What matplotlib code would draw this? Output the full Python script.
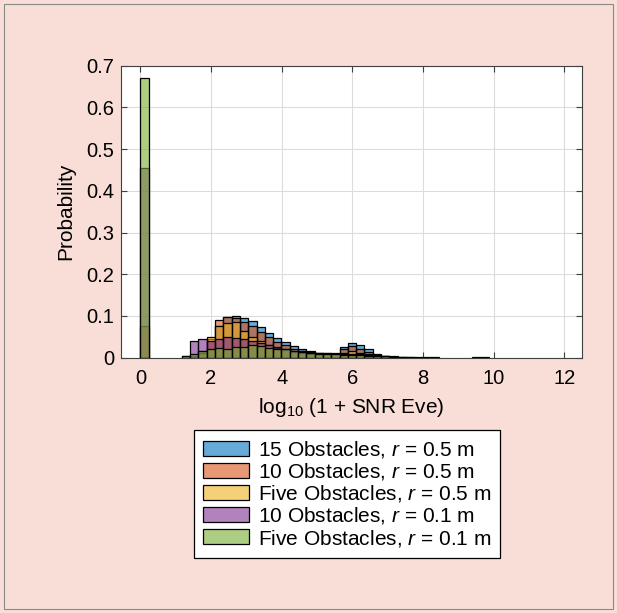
import numpy as np
import matplotlib.pyplot as plt
from matplotlib.colors import to_rgba
from matplotlib.patches import Rectangle

plt.rcParams['font.family'] = ['Liberation Sans', 'DejaVu Sans']
plt.rcParams['mathtext.fontset'] = 'custom'
plt.rcParams['mathtext.rm'] = 'Liberation Sans'
plt.rcParams['mathtext.it'] = 'Liberation Sans:italic'

# Histogram bins (log10(1 + SNR Eve)), common width, starting at 0
bin_width = 0.235
n_bins = 43

labels = ['15 Obstacles, $r$ = 0.5 m',
          '10 Obstacles, $r$ = 0.5 m',
          'Five Obstacles, $r$ = 0.5 m',
          '10 Obstacles, $r$ = 0.1 m',
          'Five Obstacles, $r$ = 0.1 m']

# probability per bin, k = 0 .. 42
p_15_05 = [0, 0, 0, 0, 0, 0, 0.005, 0.015, 0.04, 0.075, 0.097, 0.1, 0.095, 0.087,
           0.074, 0.06, 0.047, 0.038, 0.029, 0.021, 0.015, 0.012, 0.011, 0.012, 0.025,
           0.036, 0.03, 0.02, 0.01, 0.005, 0.003, 0.002, 0.001, 0, 0, 0, 0, 0, 0, 0,
           0, 0, 0]
p_10_05 = [0.075, 0, 0, 0, 0, 0, 0, 0.01, 0.045, 0.09, 0.097, 0.095, 0.085, 0.077,
           0.062, 0.05, 0.038, 0.03, 0.022, 0.017, 0.013, 0.011, 0.01, 0.01, 0.02,
           0.028, 0.022, 0.013, 0.006, 0.003, 0.001, 0, 0, 0, 0, 0, 0, 0, 0, 0,
           0, 0, 0]
p_5_05 = [0, 0, 0, 0, 0, 0, 0, 0.012, 0.05, 0.075, 0.082, 0.085, 0.065, 0.05,
          0.04, 0.03, 0.024, 0.018, 0.014, 0.011, 0.009, 0.008, 0.008, 0.008, 0.012,
          0.015, 0.012, 0.008, 0.004, 0.002, 0, 0, 0, 0, 0, 0, 0, 0, 0, 0,
          0, 0, 0]
p_10_01 = [0.455, 0, 0, 0, 0, 0.005, 0.04, 0.044, 0.04, 0.045, 0.05, 0.048, 0.045, 0.04,
           0.035, 0.03, 0.025, 0.02, 0.017, 0.015, 0.013, 0.012, 0.011, 0.01, 0.01,
           0.01, 0.009, 0.007, 0.005, 0.003, 0.002, 0.001, 0.001, 0.001, 0.001, 0.001, 0, 0, 0, 0,
           0.002, 0.001, 0]
p_5_01 = [0.67, 0, 0, 0, 0, 0.003, 0.008, 0.015, 0.02, 0.024, 0.022, 0.025, 0.026, 0.03,
          0.027, 0.024, 0.022, 0.02, 0.017, 0.014, 0.012, 0.01, 0.009, 0.008, 0.007,
          0.006, 0.006, 0.005, 0.004, 0.003, 0.002, 0.001, 0, 0, 0, 0, 0, 0, 0, 0,
          0, 0, 0]

series = [p_15_05, p_10_05, p_5_05, p_10_01, p_5_01]
colors = ['#0072bd', '#d95319', '#edb120', '#7e2f8e', '#77ac30']

edges = np.arange(n_bins) * bin_width

fig = plt.figure(figsize=(6.17, 6.13), dpi=100)
fig.patch.set_facecolor('#f9ddd7')
fig.patches.append(Rectangle((0.006, 0.006), 0.988, 0.988, transform=fig.transFigure,
                             fill=False, edgecolor='#8a8a8a', linewidth=0.8))

ax = fig.add_axes([0.196, 0.4165, 0.747, 0.4765])
handles = []
for vals, col, lab in zip(series, colors, labels):
    vals = np.array(vals)
    keep = vals > 0
    h = ax.bar(edges[keep], vals[keep], width=bin_width, align='edge',
               facecolor=to_rgba(col, 0.6), edgecolor='black', linewidth=0.9,
               label=lab, zorder=3)
    handles.append(h)

ax.set_xlim(-0.55, 12.5)
ax.set_ylim(0, 0.7)
ax.set_xticks(np.arange(0, 13, 2))
ax.set_yticks(np.arange(0, 0.71, 0.1))
ax.set_yticklabels(['0', '0.1', '0.2', '0.3', '0.4', '0.5', '0.6', '0.7'])
ax.grid(True, color='#dcdcdc', linewidth=0.8, zorder=0)
ax.set_axisbelow(True)
ax.tick_params(direction='in', top=True, right=True, labelsize=14.5,
               length=4, color='#404040')
ax.tick_params(axis='x', pad=8)
ax.tick_params(axis='y', pad=5)
for s in ax.spines.values():
    s.set_color('#404040')
    s.set_linewidth(0.8)

ax.set_xlabel('log$_{10}$ (1 + SNR Eve)', fontsize=15, labelpad=6)
ax.set_ylabel('Probability', fontsize=15, labelpad=8)

leg = fig.legend(handles=handles, loc='upper left',
                 bbox_to_anchor=(194 / 617, 1 - 430 / 613),
                 fontsize=15, frameon=True, fancybox=False, framealpha=1,
                 edgecolor='black', handlelength=2.2, handleheight=0.7,
                 handletextpad=0.4, labelspacing=0.05, borderpad=0.45,
                 borderaxespad=0)
leg.get_frame().set_linewidth(0.9)

fig.savefig('out.png', dpi=100, facecolor=fig.get_facecolor())
